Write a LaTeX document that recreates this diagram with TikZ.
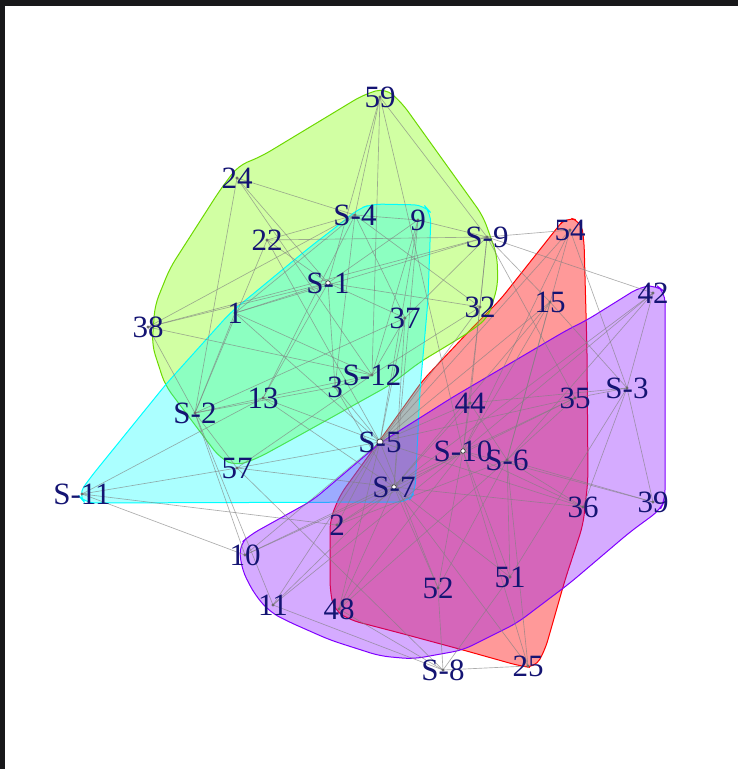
\documentclass[tikz,border=0pt]{standalone}
\usepackage{fontspec}
\setmainfont{Liberation Serif}
\definecolor{hred}{RGB}{255,0,0}
\definecolor{hgreen}{RGB}{128,255,0}
\definecolor{hcyan}{RGB}{0,255,255}
\definecolor{hpurp}{RGB}{128,0,255}
\definecolor{labcol}{RGB}{20,20,115}
\definecolor{framecol}{RGB}{24,24,26}
\tikzset{
  hull/.style={line width=1pt, rounded corners=10pt, fill opacity=0.33},
  lnk/.style={draw=gray, line width=0.65pt, draw opacity=0.65},
  vtx/.style={circle, draw=black!80, fill=white, inner sep=0pt, minimum size=2.2pt, line width=0.4pt},
  bigvtx/.style={vtx, minimum size=6pt, line width=0.6pt},
  midvtx/.style={vtx, minimum size=4.5pt, line width=0.5pt},
  lbl/.style={text=labcol, font=\fontsize{31}{31}\selectfont, inner sep=0pt}
}
\begin{document}
\begin{tikzpicture}[x=1pt,y=-1pt]
\useasboundingbox (0,0) rectangle (738,769);
\fill[white] (0,0) rectangle (738,769);
\fill[framecol] (0,0) rectangle (738,6);
\fill[framecol] (0,0) rectangle (5,769);

% hulls
\draw[hull, draw=hred, fill=hred, fill opacity=0.4] (500,300) -- (557,228) -- (566,217) -- (581,221) -- (584,240) -- (587,350) -- (588,480) -- (583,525) -- (565,580) -- (545,650) -- (535,668) -- (520,666) -- (463,650) -- (400,633) -- (350,620) -- (334,610) -- (330,590) -- (330,520) -- (340,495) -- (380,440) -- (423,380) -- (473,327) -- cycle;
\draw[hull, draw=hgreen!85!black, fill=hgreen, fill opacity=0.36] (363,95) -- (385,88) -- (402,103) -- (483,216) -- (497,255) -- (498,285) -- (488,318) -- (468,333) -- (440,350) -- (420,362) -- (390,385) -- (345,410) -- (300,435) -- (258,458) -- (236,466) -- (220,458) -- (195,425) -- (165,385) -- (152,345) -- (155,305) -- (170,268) -- (220,190) -- (238,166) -- (262,156) -- cycle;
\draw[hull, draw=hcyan, fill=hcyan] (78,495) -- (90,478) -- (167,383) -- (230,313) -- (310,247) -- (340,224) -- (358,209) -- (372,204) -- (424,205) -- (431,213) -- (428,300) -- (420,390) -- (415,492) -- (408,502) -- (85,503) -- cycle;
\draw[hull, draw=hpurp, fill=hpurp] (587,320) -- (640,287) -- (656,285) -- (665,292) -- (665,500) -- (660,510) -- (630,532) -- (570,583) -- (517,623) -- (463,650) -- (413,659) -- (380,656) -- (330,640) -- (287,621) -- (270,612) -- (255,595) -- (242,570) -- (239,545) -- (250,535) -- (313,500) -- (380,443) -- (453,397) -- (567,330) -- cycle;

% vertices
\node[vtx] (v59) at (380,97) {};
\node[vtx] (v24) at (237,178) {};
\node[vtx] (v22) at (267,240) {};
\node[vtx] (vS4) at (355,215) {};
\node[vtx] (v9) at (418,220) {};
\node[vtx] (vS9) at (487,237) {};
\node[vtx] (v54) at (570,230) {};
\node[midvtx] (vS1) at (328,283) {};
\node[vtx] (v1) at (235,313) {};
\node[vtx] (v38) at (148,327) {};
\node[vtx] (v37) at (405,318) {};
\node[vtx] (v32) at (480,307) {};
\node[vtx] (v15) at (550,302) {};
\node[vtx] (v42) at (653,293) {};
\node[vtx] (vS12) at (372,375) {};
\node[vtx] (v3) at (335,387) {};
\node[vtx] (v13) at (263,398) {};
\node[vtx] (vS2) at (195,413) {};
\node[vtx] (v44) at (470,403) {};
\node[vtx] (v35) at (575,398) {};
\node[vtx] (vS3) at (627,388) {};
\node[bigvtx] (vS5) at (380,442) {};
\node[midvtx] (vS10) at (463,451) {};
\node[vtx] (vS6) at (507,460) {};
\node[vtx] (v57) at (237,468) {};
\node[vtx] (vS11) at (82,494) {};
\node[midvtx] (vS7) at (394,487) {};
\node[vtx] (v36) at (583,507) {};
\node[vtx] (v39) at (653,502) {};
\node[vtx] (v2) at (337,525) {};
\node[vtx] (v10) at (245,555) {};
\node[vtx] (v11) at (273,605) {};
\node[vtx] (v48) at (339,609) {};
\node[vtx] (v52) at (438,588) {};
\node[vtx] (v51) at (510,577) {};
\node[vtx] (vS8) at (443,670) {};
\node[vtx] (v25) at (528,666) {};

% edges
\foreach \a/\b in {
59/S4,59/S9,59/S12,59/S1,59/S10,
24/S4,24/S1,24/S2,24/S12,
22/S4,22/S9,22/S2,22/S1,22/S5,
38/S1,38/S12,38/S2,38/S4,38/S9,
1/S1,1/S4,1/S12,1/S2,1/S5,1/S9,
9/S4,9/S9,9/S1,9/S12,9/S5,9/S7,
37/S1,37/S4,37/S9,37/S12,37/S5,37/S7,37/S2,
32/S9,32/S1,32/S12,32/S5,32/S10,32/S4,
54/S9,54/S6,54/S10,54/S3,54/S5,
15/S9,15/S6,15/S10,15/S3,15/S5,15/S7,
42/S9,42/S3,42/S6,42/S10,42/S7,
13/S2,13/S12,13/S1,13/S5,13/S7,13/S11,13/S4,
3/S12,3/S1,3/S5,3/S7,3/S2,3/S4,
44/S10,44/S6,44/S3,44/S5,44/S7,44/S9,
35/S3,35/S6,35/S10,35/S7,35/S5,35/S9,
57/S2,57/S5,57/S7,57/S12,57/S8,57/S11,
36/S3,36/S6,36/S10,36/S7,36/S5,
39/S3,39/S6,39/S10,
2/S7,2/S5,2/S10,2/S6,2/S11,
10/S11,10/S7,10/S5,10/S2,10/S10,
11/S7,11/S5,11/S10,11/S2,11/S8,
48/S7,48/S10,48/S6,48/S8,48/S5,
52/S10,52/S6,52/S7,52/S8,52/S5,
51/S10,51/S6,51/S7,51/S3,51/S8,
25/S8,25/S6,25/S10,25/S7}
  \draw[lnk] (v\a.center) -- (v\b.center);

% vertex marks over edges
\foreach \n in {59,24,22,S4,9,S9,54,1,38,37,32,15,42,S12,3,13,S2,44,35,S3,S6,57,S11,36,39,2,10,11,48,52,51,S8,25}
  \draw[black!80, fill=white, line width=0.4pt] (v\n.center) circle (1.1pt);
\draw[black!80, fill=white, line width=0.6pt] (vS5.center) circle (3pt);
\draw[black!80, fill=white, line width=0.5pt] (vS1.center) circle (2.2pt);
\draw[black!80, fill=white, line width=0.5pt] (vS10.center) circle (2.2pt);
\draw[black!80, fill=white, line width=0.5pt] (vS7.center) circle (2.2pt);

% labels
\node[lbl] (l59) at (v59) {59};
\node[lbl] (l24) at (v24) {24};
\node[lbl] (l22) at (v22) {22};
\node[lbl] (lS4) at (vS4) {S-4};
\node[lbl] (l9) at (v9) {9};
\node[lbl] (lS9) at (vS9) {S-9};
\node[lbl] (l54) at (v54) {54};
\node[lbl] (lS1) at (vS1) {S-1};
\node[lbl] (l1) at (v1) {1};
\node[lbl] (l38) at (v38) {38};
\node[lbl] (l37) at (v37) {37};
\node[lbl] (l32) at (v32) {32};
\node[lbl] (l15) at (v15) {15};
\node[lbl] (l42) at (v42) {42};
\node[lbl] (lS12) at (vS12) {S-12};
\node[lbl] (l3) at (v3) {3};
\node[lbl] (l13) at (v13) {13};
\node[lbl] (lS2) at (vS2) {S-2};
\node[lbl] (l44) at (v44) {44};
\node[lbl] (l35) at (v35) {35};
\node[lbl] (lS3) at (vS3) {S-3};
\node[lbl] (lS5) at (vS5) {S-5};
\node[lbl] (lS10) at (vS10) {S-10};
\node[lbl] (lS6) at (vS6) {S-6};
\node[lbl] (l57) at (v57) {57};
\node[lbl] (lS11) at (vS11) {S-11};
\node[lbl] (lS7) at (vS7) {S-7};
\node[lbl] (l36) at (v36) {36};
\node[lbl] (l39) at (v39) {39};
\node[lbl] (l2) at (v2) {2};
\node[lbl] (l10) at (v10) {10};
\node[lbl] (l11) at (v11) {11};
\node[lbl] (l48) at (v48) {48};
\node[lbl] (l52) at (v52) {52};
\node[lbl] (l51) at (v51) {51};
\node[lbl] (lS8) at (vS8) {S-8};
\node[lbl] (l25) at (v25) {25};
\end{tikzpicture}
\end{document}
